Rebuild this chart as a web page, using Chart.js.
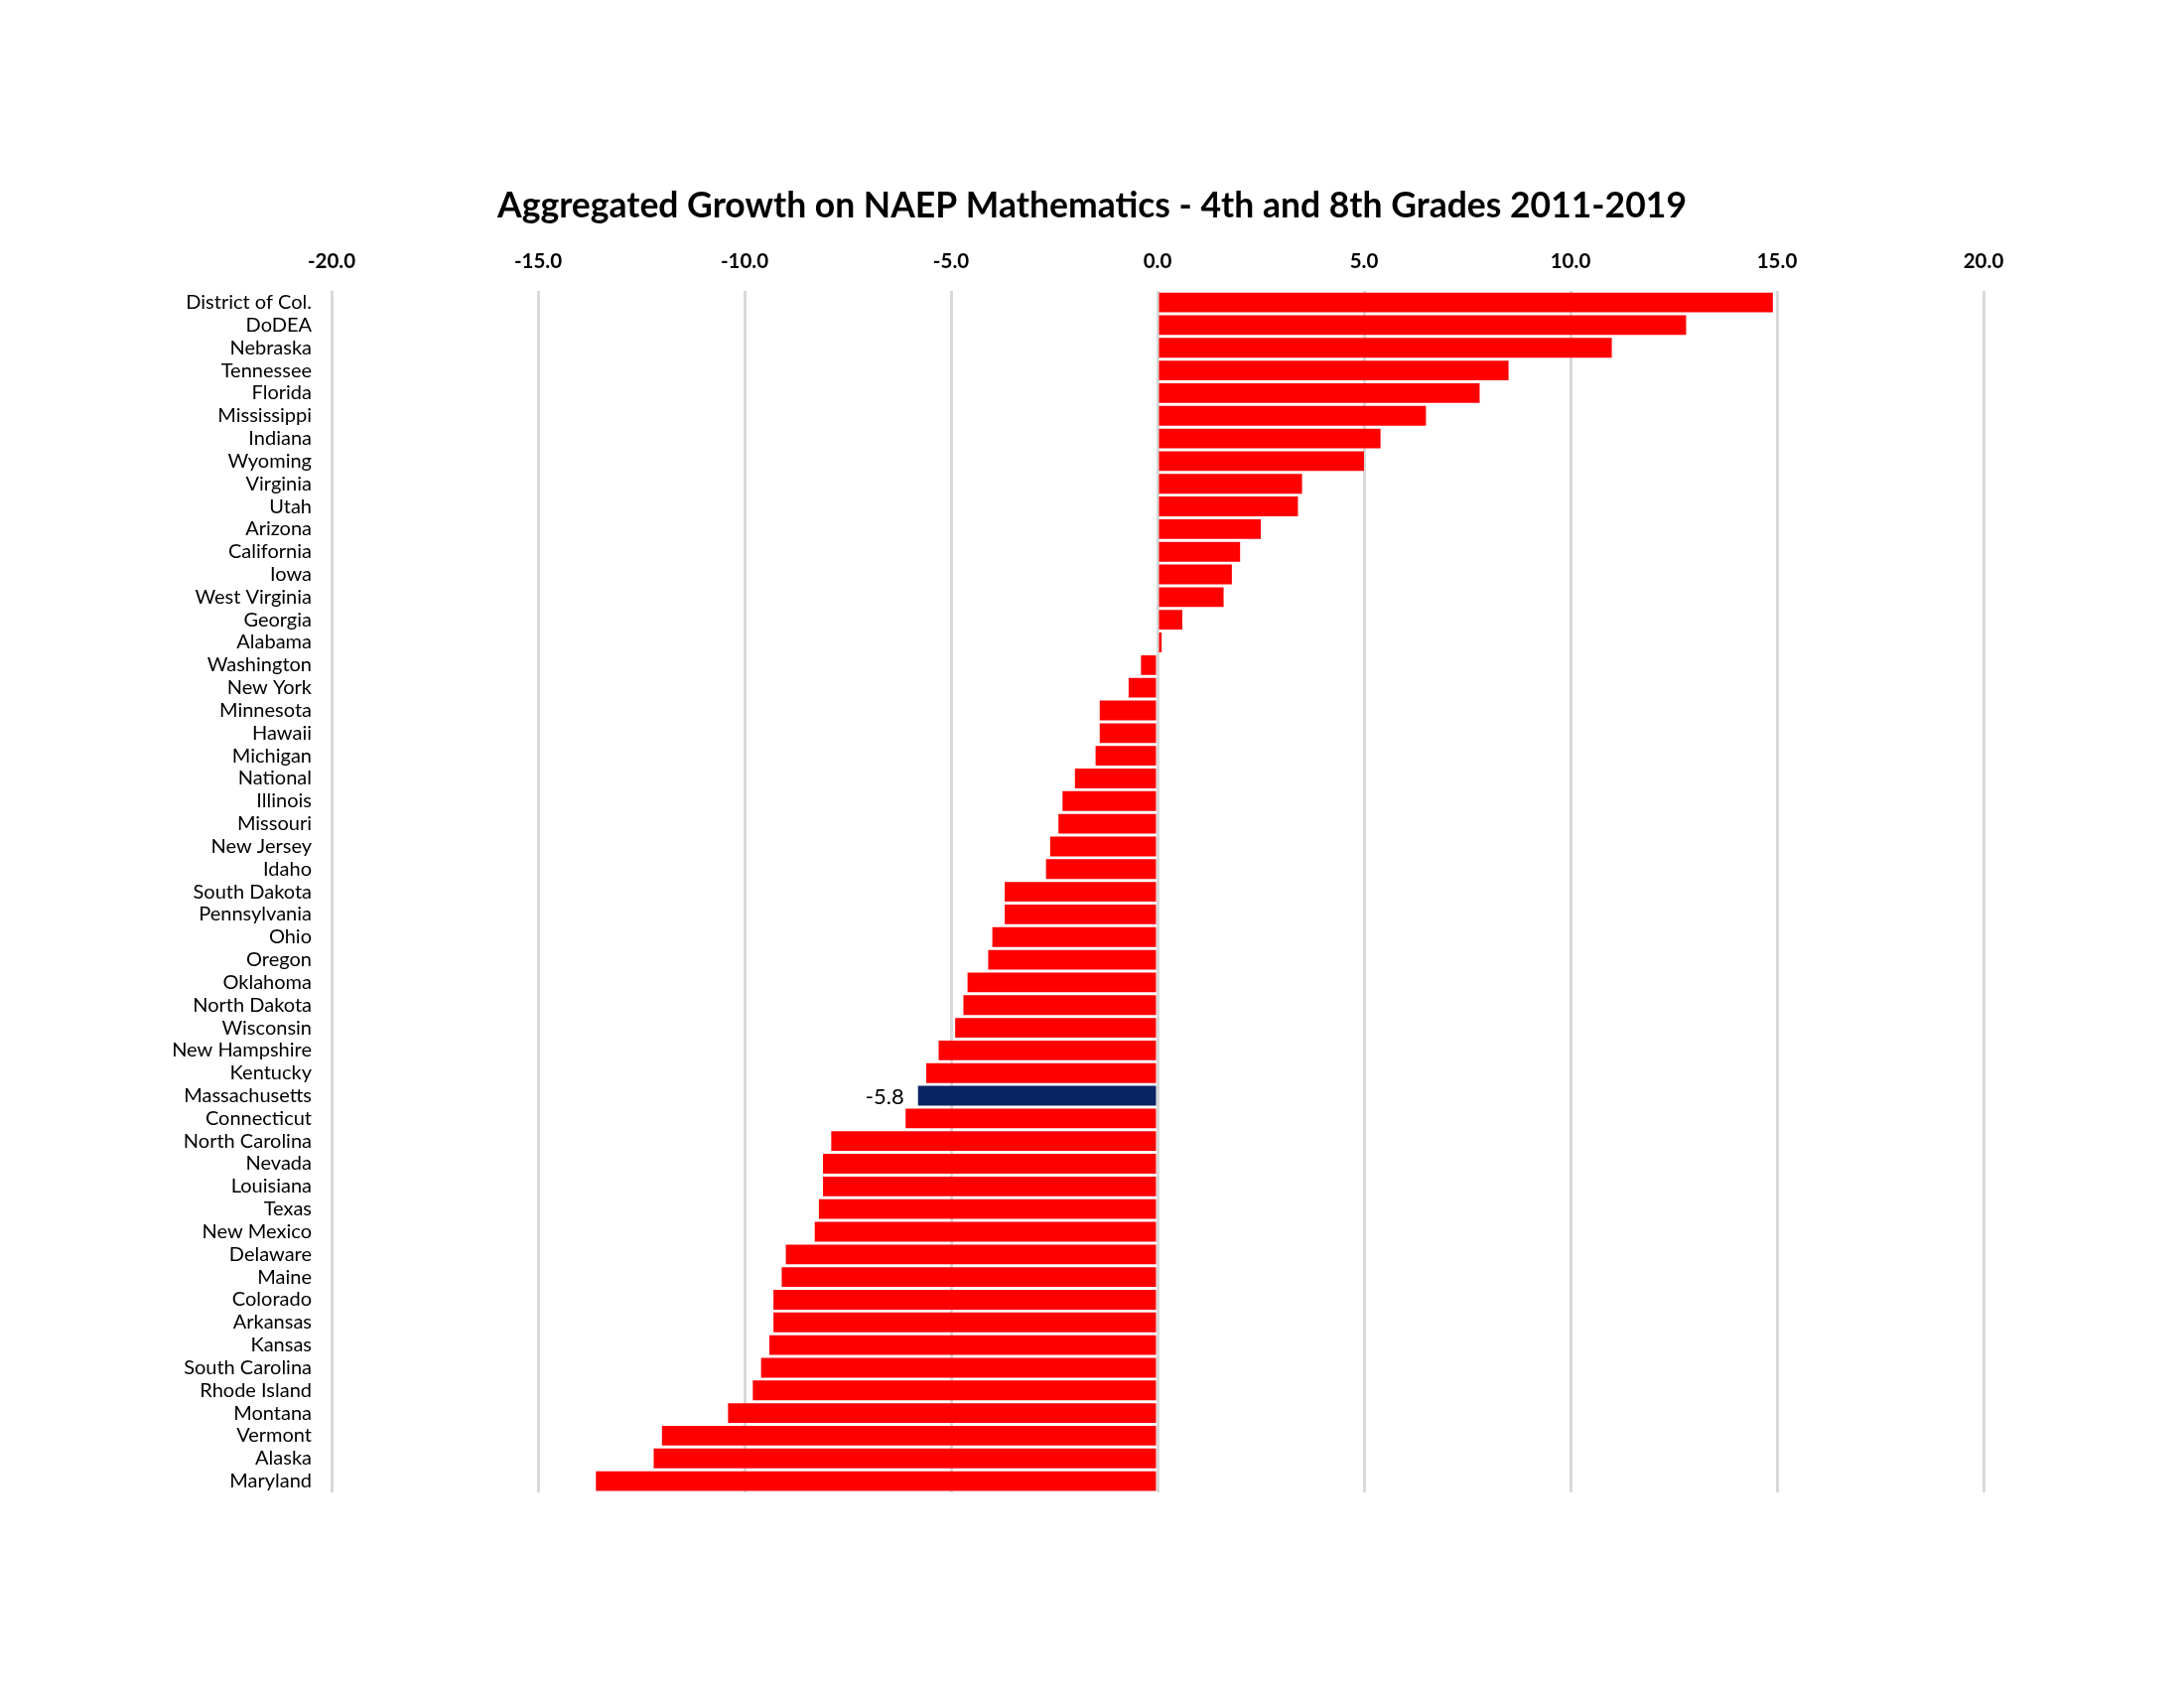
<!DOCTYPE html>
<html lang="en">
<head>
  <meta charset="UTF-8">
  <title>NAEP Mathematics Growth</title>
  <script src="https://cdn.jsdelivr.net/npm/chart.js"></script>
  <style>
    body { margin: 0; background: #fff; }
    canvas { display: block; }
  </style>
</head>
<body>
  <canvas id="growthChart" width="2200" height="1700"></canvas>

  <script>
    const states = [
      "District of Col.", "DoDEA", "Nebraska", "Tennessee", "Florida", "Mississippi",
      "Indiana", "Wyoming", "Virginia", "Utah", "Arizona", "California", "Iowa",
      "West Virginia", "Georgia", "Alabama", "Washington", "New York", "Minnesota",
      "Hawaii", "Michigan", "National", "Illinois", "Missouri", "New Jersey", "Idaho",
      "South Dakota", "Pennsylvania", "Ohio", "Oregon", "Oklahoma", "North Dakota",
      "Wisconsin", "New Hampshire", "Kentucky", "Massachusetts", "Connecticut",
      "North Carolina", "Nevada", "Louisiana", "Texas", "New Mexico", "Delaware",
      "Maine", "Colorado", "Arkansas", "Kansas", "South Carolina", "Rhode Island",
      "Montana", "Vermont", "Alaska", "Maryland"
    ];

    const growth = [
      14.9, 12.8, 11.0, 8.5, 7.8, 6.5,
      5.4, 5.0, 3.5, 3.4, 2.5, 2.0, 1.8,
      1.6, 0.6, 0.1, -0.4, -0.7, -1.4,
      -1.4, -1.5, -2.0, -2.3, -2.4, -2.6, -2.7,
      -3.7, -3.7, -4.0, -4.1, -4.6, -4.7,
      -4.9, -5.3, -5.6, -5.8, -6.1,
      -7.9, -8.1, -8.1, -8.2, -8.3, -9.0,
      -9.1, -9.3, -9.3, -9.4, -9.6, -9.8,
      -10.4, -12.0, -12.2, -13.6
    ];

    const highlight = "Massachusetts";
    const xTicks = [-20, -15, -10, -5, 0, 5, 10, 15, 20];

    const labelFont = "Lato, 'Open Sans', sans-serif";

    // value label next to the highlighted bar
    const highlightLabel = {
      id: "highlightLabel",
      afterDatasetsDraw(chart) {
        const i = states.indexOf(highlight);
        const bar = chart.getDatasetMeta(0).data[i];
        const ctx = chart.ctx;
        ctx.save();
        ctx.font = "22px " + labelFont;
        ctx.fillStyle = "#000";
        ctx.textAlign = "right";
        ctx.textBaseline = "middle";
        ctx.fillText(growth[i].toFixed(1), bar.x - 14, bar.y + 1);
        ctx.restore();
      }
    };

    new Chart(document.getElementById("growthChart"), {
      type: "bar",
      data: {
        labels: states,
        datasets: [{
          data: growth,
          backgroundColor: states.map(s => s === highlight ? "#0b2463" : "#ff0000"),
          borderWidth: 0,
          barPercentage: 0.87,
          categoryPercentage: 1.0
        }]
      },
      options: {
        indexAxis: "y",
        responsive: false,
        devicePixelRatio: 1,
        animation: false,
        layout: { padding: { top: 186, right: 150, bottom: 197, left: 150 } },
        plugins: {
          legend: { display: false },
          tooltip: { enabled: false },
          title: {
            display: true,
            text: "Aggregated Growth on NAEP Mathematics - 4th and 8th Grades 2011-2019",
            color: "#000",
            font: { family: labelFont, size: 35.5, weight: "bold" },
            padding: { top: 0, bottom: 4 }
          }
        },
        scales: {
          x: {
            position: "top",
            min: -20,
            max: 20,
            afterBuildTicks: axis => { axis.ticks = xTicks.map(v => ({ value: v })); },
            ticks: {
              color: "#000",
              font: { family: labelFont, size: 20.5, weight: "bold" },
              padding: 18,
              callback: v => v.toFixed(1)
            },
            grid: { color: "#d9d9d9", lineWidth: 3, drawTicks: false },
            border: { display: false }
          },
          y: {
            afterFit: axis => { axis.width = 184; },
            ticks: {
              color: "#000",
              autoSkip: false,
              font: { family: labelFont, size: 20 },
              padding: 20
            },
            grid: { display: false, drawTicks: false },
            border: { display: false }
          },
          // empty right-hand axis keeps the plot area where the reference has it
          yRight: {
            position: "right",
            afterFit: axis => { axis.width = 52; },
            ticks: { display: false },
            grid: { display: false, drawTicks: false },
            border: { display: false }
          }
        }
      },
      plugins: [highlightLabel]
    });
  </script>
</body>
</html>
